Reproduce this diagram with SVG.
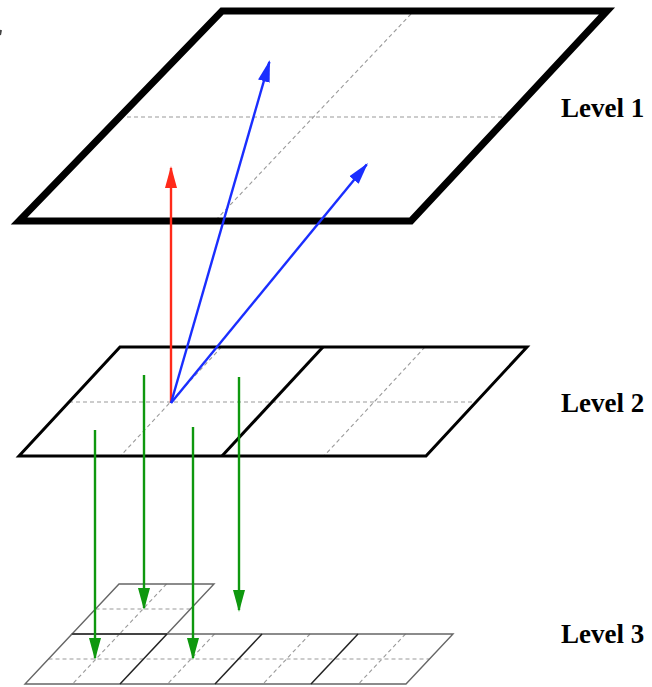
<svg xmlns="http://www.w3.org/2000/svg" width="652" height="687" viewBox="0 0 652 687">
<style>
.l1{fill:none;stroke:#000;stroke-width:7;stroke-linejoin:miter}
.l2{fill:none;stroke:#000;stroke-width:3;stroke-linejoin:miter}
.l3o{fill:none;stroke:#666;stroke-width:1.4}
.l3d{fill:none;stroke:#222;stroke-width:1.5}
.dash{fill:none;stroke:#9a9a9a;stroke-width:1.1;stroke-dasharray:4 3}
.lbl{font-family:"Liberation Serif","Times New Roman",serif;font-weight:bold;font-size:27px;fill:#000}
.red{stroke:#ff2a1a;stroke-width:2.4;fill:none}
.blue{stroke:#1a2eff;stroke-width:2.4;fill:none}
.green{stroke:#0e980e;stroke-width:2.4;fill:none}
</style>
<defs>
<marker id="hr" markerUnits="userSpaceOnUse" markerWidth="24" markerHeight="14" refX="20" refY="6.5" orient="auto"><path d="M0,0.5 L22,6.5 L0,12.5 z" fill="#ff2a1a"/></marker>
<marker id="hb" markerUnits="userSpaceOnUse" markerWidth="24" markerHeight="14" refX="20" refY="6.5" orient="auto"><path d="M0,0.5 L22,6.5 L0,12.5 z" fill="#1a2eff"/></marker>
<marker id="hg" markerUnits="userSpaceOnUse" markerWidth="24" markerHeight="14" refX="20" refY="6.5" orient="auto"><path d="M0,0.5 L22,6.5 L0,12.5 z" fill="#0e980e"/></marker>
</defs>
<rect width="652" height="687" fill="#fff"/>
<line x1="1" y1="30" x2="0" y2="35" stroke="#444" stroke-width="2"/>

<g id="level1">
<line class="dash" x1="120" y1="117" x2="509" y2="117"/>
<line class="dash" x1="411" y1="14" x2="215" y2="221"/>
<polygon class="l1" points="222,11 607,11 411,221 19,221"/>
<text class="lbl" x="561" y="117">Level 1</text>
</g>

<g id="level2">
<line class="dash" x1="69" y1="402" x2="476" y2="402"/>
<line class="dash" x1="221.5" y1="347" x2="120.5" y2="456"/>
<line class="dash" x1="425" y1="347" x2="324" y2="456"/>
<polygon class="l2" points="120,347 527,347 426,456 19,456"/>
<line class="l2" x1="323" y1="347" x2="222" y2="456"/>
<text class="lbl" x="561" y="412">Level 2</text>
</g>

<g id="level3">
<line class="dash" x1="95.5" y1="609" x2="190.5" y2="609"/>
<line class="dash" x1="166.5" y1="584" x2="119.5" y2="634"/>
<line class="dash" x1="48.5" y1="659" x2="429.5" y2="659"/>
<line class="dash" x1="119.5" y1="634" x2="72.5" y2="684"/>
<line class="dash" x1="214.5" y1="634" x2="167.5" y2="684"/>
<line class="dash" x1="310" y1="634" x2="263" y2="684"/>
<line class="dash" x1="405.5" y1="634" x2="358.5" y2="684"/>
<polygon class="l3o" points="119,584 214,584 167,634 72,634"/>
<polygon class="l3o" points="72,634 453,634 406,684 25,684"/>
<line x1="72" y1="634" x2="167" y2="634" stroke="#444" stroke-width="2"/>
<line class="l3d" x1="167" y1="634" x2="120" y2="684"/>
<line class="l3d" x1="262" y1="634" x2="215" y2="684"/>
<line class="l3d" x1="358" y1="634" x2="311" y2="684"/>
<text class="lbl" x="561" y="643">Level 3</text>
</g>

<g id="connectors">
<line class="red" x1="171" y1="403" x2="171" y2="168" marker-end="url(#hr)"/>
<line class="blue" x1="171" y1="403" x2="269.4" y2="61.9" marker-end="url(#hb)"/>
<line class="blue" x1="171" y1="403" x2="366.7" y2="164.5" marker-end="url(#hb)"/>
<line class="green" x1="95" y1="430" x2="95" y2="658" marker-end="url(#hg)"/>
<line class="green" x1="144" y1="375" x2="144" y2="608" marker-end="url(#hg)"/>
<line class="green" x1="193" y1="427" x2="193" y2="658" marker-end="url(#hg)"/>
<line class="green" x1="239" y1="377" x2="239" y2="610" marker-end="url(#hg)"/>
</g>
</svg>
